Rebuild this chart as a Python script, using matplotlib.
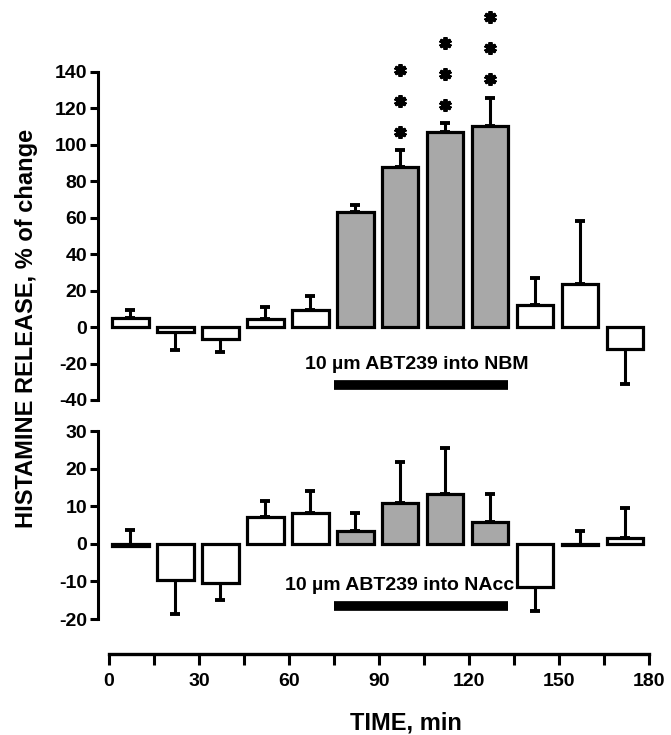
import numpy as np
import matplotlib
matplotlib.use("Agg")
import matplotlib.pyplot as plt

plt.rcParams['font.family'] = ['Liberation Sans', 'DejaVu Sans']
plt.rcParams['font.weight'] = 'bold'
plt.rcParams['axes.unicode_minus'] = False

# sample start times (min), 15-min collections
time_start = [0, 15, 30, 45, 60, 75, 90, 105, 120, 135, 150, 165]

# ABT239 into NBM: mean % change and tip of SEM bar
nbm_mean = [5, -2.5, -6.5, 4.7, 9.4, 63.3, 88, 107, 110.5, 12.4, 23.5, -12]
nbm_tip = [9.5, -12.5, -13.5, 11.3, 16.8, 67, 97, 112, 126, 27, 58, -31]
nbm_stars = [0, 0, 0, 0, 0, 0, 3, 3, 3, 0, 0, 0]

# ABT239 into NAcc
nacc_mean = [-0.6, -9.6, -10.5, 7.0, 8.1, 3.3, 10.8, 13.2, 5.8, -11.6, -0.4, 1.6]
nacc_tip = [3.7, -18.8, -15, 11.3, 14.1, 8.1, 21.7, 25.4, 13.2, -18, 3.4, 9.5]

# infusion period (grey bars)
infusion = (75, 133)

GREY = '#a8a8a8'
LW = 2.3

fig = plt.figure(figsize=(6.71, 7.35), dpi=100)

left = 98 / 671
width = 554 / 671
xlim = (-3.7, 181)

ax_top = fig.add_axes([left, 335 / 735, width, 328 / 735])
ax_bot = fig.add_axes([left, 116 / 735, width, 188 / 735])
ax_x = fig.add_axes([left, 81 / 735, width, 0.0005])


def draw_panel(ax, mean, tip):
    t = np.array(time_start, dtype=float)
    mean = np.array(mean, dtype=float)
    tip = np.array(tip, dtype=float)
    centers = t + 7
    colors = [GREY if infusion[0] <= s < infusion[1] else 'white' for s in t]
    lower = np.clip(mean - tip, 0, None)
    upper = np.clip(tip - mean, 0, None)
    ax.errorbar(centers, mean, yerr=[lower, upper], fmt='none', ecolor='black',
                elinewidth=2.2, capsize=3.6, capthick=2.8, zorder=1)
    ax.bar(centers, mean, width=12.3, color=colors, edgecolor='black',
           linewidth=LW, zorder=2)
    ax.set_xlim(*xlim)
    for s in ['top', 'right', 'bottom']:
        ax.spines[s].set_visible(False)
    ax.spines['left'].set_linewidth(2.2)
    ax.tick_params(axis='y', length=6, width=2.2, pad=2, labelsize=14)
    ax.set_xticks([])
    return centers


c = draw_panel(ax_top, nbm_mean, nbm_tip)
ax_top.set_ylim(-40, 140)
ax_top.set_yticks(np.arange(-40, 141, 20))
for xc, tp, n in zip(c, nbm_tip, nbm_stars):
    for k in range(n):
        ax_top.plot(xc, tp + 10 + 17 * k, marker=(6, 2, 0), color='black',
                    markersize=9, mew=2.8, clip_on=False, zorder=3)
ax_top.plot(infusion, [-31.5, -31.5], color='black', lw=7,
            solid_capstyle='butt')
ax_top.text(102.7, -20.3, '10 µm ABT239 into NBM', ha='center', va='center',
            fontsize=14)

draw_panel(ax_bot, nacc_mean, nacc_tip)
ax_bot.set_ylim(-20, 30)
ax_bot.set_yticks(np.arange(-20, 31, 10))
ax_bot.plot(infusion, [-16.5, -16.5], color='black', lw=7,
            solid_capstyle='butt')
ax_bot.text(96.7, -11, '10 µm ABT239 into NAcc', ha='center', va='center',
            fontsize=14)

# shared time axis
ax_x.set_xlim(*xlim)
ax_x.set_facecolor('none')
for s in ['top', 'right', 'left']:
    ax_x.spines[s].set_visible(False)
ax_x.spines['bottom'].set_linewidth(2.4)
ax_x.spines['bottom'].set_bounds(0, 180)
ax_x.set_yticks([])
ax_x.set_xticks(np.arange(0, 181, 30))
ax_x.set_xticks(np.arange(15, 180, 30), minor=True)
ax_x.tick_params(axis='x', which='both', length=8, width=2.2, pad=6,
                 labelsize=14)

fig.text(27 / 671, 1 - 328.5 / 735, 'HISTAMINE RELEASE, % of change',
         rotation=90, ha='center', va='center', fontsize=17)
fig.text(406 / 671, 1 - 723 / 735, 'TIME, min', ha='center', va='center',
         fontsize=17)

fig.savefig('out.png', dpi=100)
